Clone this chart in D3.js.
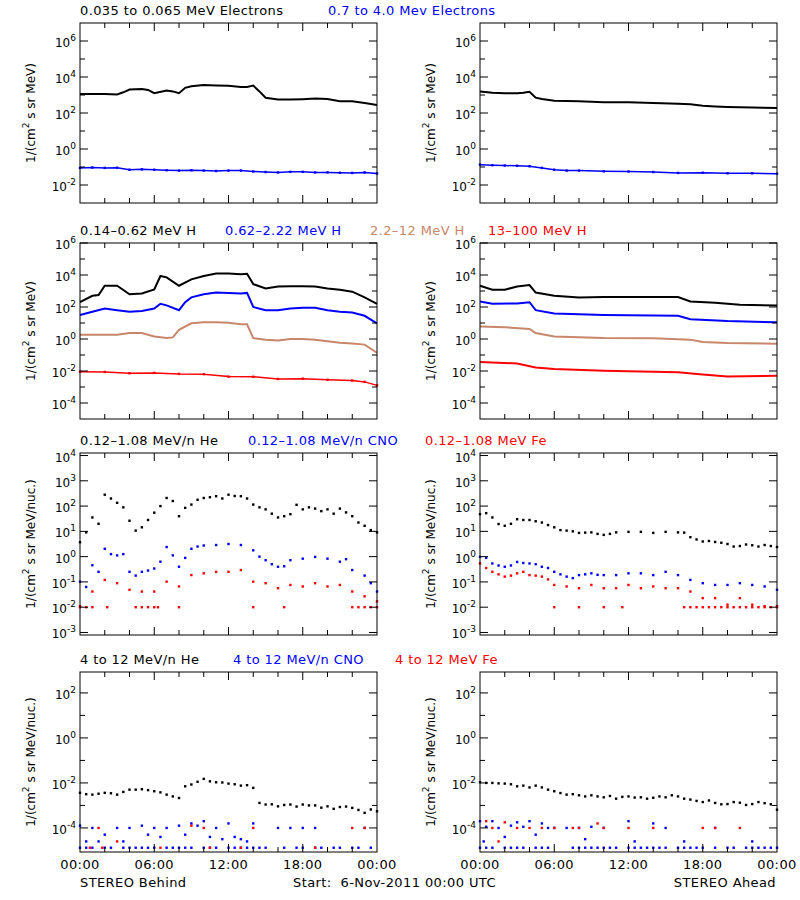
<!DOCTYPE html>
<html>
<head>
<script src="https://d3js.org/d3.v7.min.js"></script>
<style>
  body { margin: 0; background: #fff; }
  text { font-family: "DejaVu Sans", sans-serif; font-size: 12px; }
  .title { font-size: 13px; letter-spacing: 0.4px; }
</style>
</head>
<body>
<svg id="chart" width="800" height="900"></svg>
<script>
// Data: [hour, log10 flux]
var bElec1 = [[0,3.05],[1,3.05],[2,3.05],[3,3.03],[3.5,3.15],[4,3.3],[5,3.33],[5.5,3.28],[6,3.1],[7,3.25],[7.5,3.2],[8,3.1],[8.5,3.4],[9,3.48],[10,3.55],[11,3.53],[12,3.52],[13,3.45],[13.5,3.45],[14,3.52],[14.5,3.2],[15,2.85],[16,2.75],[17,2.75],[18,2.77],[19,2.8],[20,2.78],[21,2.65],[22,2.65],[23,2.55],[24,2.45]];
var bElec2 = [[0,-1.05],[1,-1.03],[2,-1.05],[3,-1.04],[4,-1.15],[5,-1.13],[6,-1.15],[7,-1.18],[8,-1.2],[9,-1.18],[10,-1.2],[11,-1.22],[12,-1.2],[13,-1.2],[14,-1.25],[15,-1.28],[16,-1.3],[17,-1.27],[18,-1.27],[19,-1.3],[20,-1.3],[21,-1.32],[22,-1.33],[23,-1.3],[24,-1.36]];
var aElec1 = [[0,3.2],[1,3.12],[2,3.1],[3,3.1],[3.5,3.12],[4,3.18],[4.5,2.85],[5,2.78],[6,2.68],[7,2.66],[8,2.65],[10,2.6],[12,2.6],[14,2.56],[16,2.52],[17,2.48],[18,2.4],[19,2.36],[20,2.33],[22,2.3],[24,2.28]];
var aElec2 = [[0,-0.87],[1,-0.9],[2,-0.92],[3,-0.93],[4,-0.96],[5,-1.05],[6,-1.15],[7,-1.2],[8,-1.2],[10,-1.24],[12,-1.25],[14,-1.28],[16,-1.33],[18,-1.32],[20,-1.35],[22,-1.35],[24,-1.37]];

var bH1 = [[0,2.3],[1,2.7],[1.5,2.75],[2,3.33],[3,3.33],[4,2.8],[5,2.85],[6,3.1],[6.5,3.94],[7,3.85],[8,3.33],[9,3.73],[10,3.94],[11,4.1],[12,4.1],[13,4.04],[13.5,4.08],[14,3.43],[15,3.16],[16,3.28],[17,3.3],[18,3.3],[19,3.28],[20,3.16],[21,3.08],[22,2.96],[23,2.6],[24,2.2]];
var bH2 = [[0,1.5],[1,1.7],[2,1.9],[3,1.8],[4,1.7],[5,1.75],[6,1.9],[6.5,2.2],[7,2.1],[8,1.8],[8.5,2.3],[9,2.6],[10,2.8],[11,2.9],[12,2.88],[13,2.85],[13.5,2.88],[14,2.0],[15,1.8],[16,1.8],[17,1.9],[18,1.95],[19,1.95],[20,1.8],[21,1.7],[22,1.65],[23,1.45],[24,0.98]];
var bH3 = [[0,0.27],[1,0.27],[2,0.27],[3,0.27],[4,0.37],[5,0.37],[6,0.16],[7,0.06],[7.5,0.1],[8,0.57],[9,0.98],[10,1.04],[11,1.04],[12,1.02],[13,0.92],[13.5,0.92],[14,0.06],[15,-0.04],[16,-0.1],[17,0.0],[18,0.0],[19,-0.04],[20,-0.14],[21,-0.24],[22,-0.28],[23,-0.35],[24,-0.86]];
var bH4 = [[0,-2.04],[2,-2.06],[4,-2.14],[6,-2.12],[8,-2.18],[10,-2.2],[12,-2.35],[14,-2.36],[16,-2.5],[18,-2.48],[20,-2.55],[22,-2.6],[23,-2.68],[24,-2.9]];
var aH1 = [[0,3.33],[1,3.08],[2,3.08],[3,3.28],[4,3.37],[4.5,2.9],[6,2.7],[8,2.6],[10,2.62],[14,2.62],[16,2.62],[17,2.35],[19,2.27],[21,2.14],[24,2.1]];
var aH2 = [[0,2.35],[1,2.2],[3,2.22],[4,2.3],[4.5,1.8],[6,1.6],[10,1.5],[16,1.45],[17,1.24],[20,1.12],[24,1.04]];
var aH3 = [[0,0.78],[2,0.74],[4,0.63],[4.5,0.37],[6,0.16],[10,0.06],[14,0.04],[17,-0.04],[18,-0.18],[20,-0.25],[24,-0.3]];
var aH4 = [[0,-1.43],[3,-1.53],[4.5,-1.78],[6,-1.88],[10,-1.98],[16,-2.08],[18,-2.22],[20,-2.35],[24,-2.3]];

var bHe1 = [[0,0.57],[0.5,0.96],[1,1.55],[1.5,1.3],[2,2.45],[2.5,2.3],[3,2.13],[3.5,1.95],[4,1.42],[4.5,1.03],[5,1.16],[5.5,1.45],[6,1.74],[6.5,2.0],[7,2.32],[7.5,2.2],[8,1.6],[8.5,1.93],[9,2.06],[9.5,2.25],[10,2.32],[10.5,2.35],[11,2.39],[11.5,2.3],[12,2.45],[12.5,2.4],[13,2.39],[13.5,2.3],[14,2.06],[14.5,1.95],[15,1.87],[15.5,1.7],[16,1.55],[16.5,1.6],[17,1.68],[17.5,2.05],[18,1.87],[18.5,1.95],[19,1.9],[19.5,1.8],[20,1.87],[20.5,1.7],[21,1.9],[21.5,1.75],[22,1.6],[22.5,1.35],[23,1.22],[23.5,1.05],[24,0.96]];
var bCNO1 = [[0,-0.99],[0.5,-1.2],[1,-0.34],[1.5,-0.6],[2,0.31],[2.5,0.1],[3,0.05],[3.5,0.1],[4,-0.6],[4.5,-0.75],[5,-0.6],[5.5,-0.55],[6,-0.47],[6.5,-0.2],[7,0.38],[7.5,0.05],[8,-0.4],[8.5,-0.05],[9,0.31],[9.5,0.4],[10,0.44],[11,0.46],[12,0.5],[13,0.46],[14,0.25],[14.5,0.0],[15,-0.14],[15.5,-0.3],[16,-0.4],[16.5,-0.38],[17,-0.14],[18,-0.08],[19,-0.01],[20,-0.08],[21,-0.2],[21.5,-0.1],[22,-0.53],[23,-0.75],[23.5,-1.05],[24,-1.38]];
var bFe1 = [[0,-1.96],[1,-1.38],[2,-0.92],[3,-1.05],[4,-1.31],[5,-1.38],[6,-1.38],[7,-0.99],[8,-1.18],[9,-0.73],[10,-0.66],[11,-0.6],[12,-0.6],[13,-0.53],[14,-0.99],[15,-1.05],[16,-1.25],[17,-1.12],[18,-1.18],[19,-1.05],[20,-1.18],[21,-1.12],[22,-1.38],[23,-1.57],[24,-1.77]];
var bFe1Floor = [0,0.5,1,2.2,4.5,5,5.5,6,6.3,8,14,16.5,22,22.5,23,23.5,24];
var aHe1 = [[0,1.68],[0.5,1.72],[1,1.55],[1.5,1.29],[2,1.22],[2.5,1.3],[3,1.48],[3.5,1.45],[4,1.45],[4.5,1.4],[5,1.35],[5.5,1.25],[6,1.16],[6.5,1.05],[7,1.03],[7.5,1.0],[8,0.94],[8.5,0.95],[9,0.96],[9.5,0.9],[10,0.86],[10.5,0.9],[11,0.96],[12,0.98],[13,0.98],[14,0.94],[15,0.98],[16,0.96],[16.5,0.95],[17,0.77],[17.5,0.68],[18,0.6],[18.5,0.62],[19,0.58],[19.5,0.55],[20,0.5],[20.5,0.4],[21,0.42],[21.5,0.48],[22,0.45],[22.5,0.4],[23,0.46],[23.5,0.42],[24,0.38]];
var aCNO1 = [[0,-0.01],[0.5,-0.05],[1,-0.27],[1.5,-0.35],[2,-0.4],[2.5,-0.35],[3,-0.21],[3.5,-0.25],[4,-0.27],[4.5,-0.3],[5,-0.4],[5.5,-0.45],[6,-0.6],[6.5,-0.7],[7,-0.79],[7.5,-0.85],[8,-0.73],[8.5,-0.7],[9,-0.66],[9.5,-0.72],[10,-0.73],[11,-0.73],[12,-0.66],[13,-0.66],[14,-0.73],[15,-0.6],[16,-0.73],[17,-0.92],[18,-1.05],[19,-1.12],[20,-1.12],[21,-1.05],[22,-1.12],[23,-1.18],[24,-1.31]];
var aFe1 = [[0,-0.27],[0.5,-0.45],[1,-0.6],[1.5,-0.7],[2,-0.79],[2.5,-0.75],[3,-0.66],[3.5,-0.6],[4,-0.73],[4.5,-0.75],[5,-0.79],[5.5,-0.9],[6,-1.12],[7,-1.18],[8,-1.25],[9,-1.12],[10,-1.25],[11,-1.25],[12,-1.12],[13,-1.25],[14,-1.18],[15,-1.25],[16,-1.25],[17,-1.38],[18,-1.64],[19,-1.64],[20,-1.9],[21,-1.64],[22,-1.9],[23,-1.96],[24,-1.96]];
var aFe1Floor = [6,8,10,11.5,16.5,17,17.5,18,18.5,19,19.5,20,20.5,21,21.5,22,22.5,23,23.5,24];

var bHe2 = [[0,-2.44],[0.5,-2.5],[1,-2.52],[1.5,-2.48],[2,-2.44],[2.5,-2.46],[3,-2.52],[3.5,-2.4],[4,-2.3],[4.5,-2.3],[5,-2.28],[5.5,-2.32],[6,-2.37],[6.5,-2.42],[7,-2.52],[7.5,-2.6],[8,-2.67],[8.5,-2.15],[9,-2.07],[9.5,-1.95],[10,-1.82],[10.5,-1.93],[11,-1.97],[11.5,-1.98],[12,-2.03],[12.5,-2.06],[13,-2.12],[13.5,-2.1],[14,-2.22],[14.5,-2.89],[15,-2.96],[15.5,-2.95],[16,-3.04],[16.5,-2.98],[17,-2.96],[17.5,-3.05],[18,-2.96],[18.5,-3.0],[19,-3.0],[19.5,-3.1],[20,-3.04],[20.5,-3.15],[21,-3.07],[21.5,-3.05],[22,-3.11],[22.5,-3.2],[23,-3.33],[23.5,-3.18],[24,-3.26]];
var bCNO2 = [[0,-3.9],[0.5,-4.6],[1,-4.0],[1.5,-4.6],[2,-4.3],[3,-4.0],[3.5,-4.6],[4,-4.0],[5,-3.9],[5.5,-4.3],[6,-4.0],[6.5,-4.4],[7,-4.0],[8,-3.9],[8.5,-4.3],[9,-3.8],[9.5,-3.9],[10,-3.7],[10.5,-4.4],[11,-4.0],[11.5,-4.5],[12,-3.8],[12.5,-4.4],[13,-4.5],[13.5,-4.6],[14,-3.8],[16,-4.0],[17,-4.0],[18,-4.0],[19,-4.0],[23,-4.0]];
var bCNO2Floor = [0,0.5,1,2,2.5,3.5,4,4.5,5,5.5,6,7,7.5,8,8.5,9,10,10.5,11,12,12.5,13,13.5,14,14.5,15,16.5,17.5,18,19,19.5,20.5,21,22,22.5,23.5];
var bFe2 = [[1.5,-4.0],[3,-4.6],[9,-3.9],[10,-4.0],[14,-4.0],[22,-4.0],[23,-4.0]];
var bFe2Floor = [0.8,1.8,6.5,10.5,13,19];
var aHe2 = [[0,-1.97],[0.5,-2.0],[1,-2.0],[1.5,-2.02],[2,-2.03],[2.5,-2.06],[3,-2.15],[3.5,-2.12],[4,-2.2],[4.5,-2.12],[5,-2.2],[5.5,-2.3],[6,-2.37],[6.5,-2.45],[7,-2.52],[7.5,-2.5],[8,-2.55],[8.5,-2.6],[9,-2.55],[9.5,-2.6],[10,-2.64],[10.5,-2.58],[11,-2.7],[11.5,-2.62],[12,-2.6],[12.5,-2.65],[13,-2.64],[13.5,-2.7],[14,-2.66],[14.5,-2.6],[15,-2.64],[15.5,-2.55],[16,-2.6],[16.5,-2.7],[17,-2.74],[17.5,-2.8],[18,-2.85],[18.5,-2.78],[19,-2.89],[19.5,-2.95],[20,-2.94],[20.5,-2.85],[21,-2.88],[21.5,-2.98],[22,-2.94],[22.5,-2.85],[23,-2.9],[23.5,-2.95],[24,-3.19]];
var aCNO2 = [[0,-3.7],[0.3,-4.6],[0.5,-3.95],[1,-3.7],[1.5,-4.0],[2,-4.4],[2.5,-3.9],[3,-3.75],[3.5,-3.95],[4,-3.7],[4.5,-4.3],[5,-3.8],[5.5,-4.0],[6,-4.0],[7,-4.0],[8,-4.0],[8.5,-4.5],[9,-3.95],[10,-4.0],[12,-3.7],[12.5,-4.6],[14,-3.8],[15,-4.0],[16.5,-4.6],[19,-4.0],[22,-4.6]];
var aFe2 = [[0.5,-3.7],[1,-4.0],[1.5,-4.6],[2,-3.75],[3,-4.0],[4,-4.0],[5,-4.0],[6,-4.0],[7.5,-4.0],[8,-4.0],[9.5,-3.8],[10,-4.0],[12,-4.0],[14,-4.0],[18,-4.0],[19,-4.0],[21,-4.0]];
var aFloor2 = [0,0.5,1,2,2.5,3,3.5,4.5,5,5.5,7.5,8,8.5,9,9.5,10,10.5,11,12,12.5,13,13.5,14,14.5,15,16,16.5,17,17.5,18,19,20,20.5,21.5,22,22.5,23,23.5,24];

var hourTicks = ["00:00", "06:00", "12:00", "18:00", "00:00"];

var blue = "#0000ff", red = "#ff0000", brown = "#c8866a";

var rows = [
  { top: 23, bottom: 203, dom: [-3, 7], labels: [-2, 0, 2, 4, 6], minors: [-1, 1, 3, 5], unit: "MeV",
    titles: [["0.035 to 0.065 MeV Electrons", "#000", 80], ["0.7 to 4.0 Mev Electrons", blue, 328]],
    left: [{ d: bElec1, c: "#000" }, { d: bElec2, c: blue, dots: true }],
    right: [{ d: aElec1, c: "#000" }, { d: aElec2, c: blue, dots: true }] },
  { top: 243, bottom: 419, dom: [-5, 6], labels: [-4, -2, 0, 2, 4, 6], minors: [-3, -1, 1, 3, 5], unit: "MeV",
    titles: [["0.14\u20130.62 MeV H", "#000", 80], ["0.62\u20132.22 MeV H", blue, 225], ["2.2\u201312 MeV H", brown, 370], ["13\u2013100 MeV H", red, 488]],
    left: [{ d: bH1, c: "#000" }, { d: bH2, c: blue }, { d: bH3, c: brown }, { d: bH4, c: red, dots: true }],
    right: [{ d: aH1, c: "#000" }, { d: aH2, c: blue }, { d: aH3, c: brown }, { d: aH4, c: red }] },
  { top: 453, bottom: 635, dom: [-3.1, 4.1], labels: [-3, -2, -1, 0, 1, 2, 3, 4], minors: [], unit: "MeV/nuc.",
    titles: [["0.12\u20131.08 MeV/n He", "#000", 80], ["0.12\u20131.08 MeV/n CNO", blue, 248], ["0.12\u20131.08 MeV Fe", red, 425]],
    left: [{ d: bHe1, c: "#000", scatter: true }, { d: bCNO1, c: blue, scatter: true }, { d: bFe1, c: red, scatter: true },
           { d: bFe1Floor.map(function(h) { return [h, -2]; }), c: red, scatter: true }],
    right: [{ d: aHe1, c: "#000", scatter: true }, { d: aCNO1, c: blue, scatter: true }, { d: aFe1, c: red, scatter: true },
            { d: aFe1Floor.map(function(h) { return [h, -2]; }), c: red, scatter: true }] },
  { top: 672, bottom: 852, dom: [-5.07, 2.93], labels: [-4, -2, 0, 2], minors: [-3, -1, 1], unit: "MeV/nuc.",
    titles: [["4 to 12 MeV/n He", "#000", 80], ["4 to 12 MeV/n CNO", blue, 233], ["4 to 12 MeV Fe", red, 395]],
    left: [{ d: bHe2, c: "#000", scatter: true }, { d: bCNO2Floor.map(function(h) { return [h, -4.88]; }), c: blue, scatter: true },
           { d: bCNO2, c: blue, scatter: true }, { d: bFe2, c: red, scatter: true },
           { d: bFe2Floor.map(function(h) { return [h, -4.88]; }), c: red, scatter: true }],
    right: [{ d: aHe2, c: "#000", scatter: true }, { d: aFloor2.map(function(h) { return [h, -4.88]; }), c: blue, scatter: true },
            { d: aCNO2, c: blue, scatter: true }, { d: aFe2, c: red, scatter: true }] }
];

var svg = d3.select("#chart");
var cols = [{ x0: 80, key: "left" }, { x0: 480, key: "right" }];
var pw = 297;

rows.forEach(function(r, ri) {
  r.titles.forEach(function(t) {
    svg.append("text").attr("class", "title").attr("x", t[2]).attr("y", r.top - 8).attr("fill", t[1]).text(t[0]);
  });
  cols.forEach(function(col) {
    var x = d3.scaleLinear().domain([0, 24]).range([col.x0, col.x0 + pw]);
    var y = d3.scaleLinear().domain(r.dom).range([r.bottom, r.top]);
    var g = svg.append("g");

    // series
    r[col.key].forEach(function(s) {
      var pts = s.d.filter(function(p) { return p[1] >= r.dom[0] && p[1] <= r.dom[1]; });
      if (!s.scatter) {
        g.append("path").datum(pts)
          .attr("fill", "none").attr("stroke", s.c).attr("stroke-width", s.dots ? 1.5 : 2)
          .attr("d", d3.line().x(function(p) { return x(p[0]); }).y(function(p) { return y(p[1]); }));
      }
      if (s.scatter || s.dots) {
        g.selectAll(null).data(pts).enter().append("rect")
          .attr("x", function(p) { return x(p[0]) - 1.2; })
          .attr("y", function(p) { return y(p[1]) - 1.2; })
          .attr("width", 2.4).attr("height", 2.4).attr("fill", s.c);
      }
    });

    // frame
    g.append("rect").attr("x", col.x0).attr("y", r.top).attr("width", pw).attr("height", r.bottom - r.top)
      .attr("fill", "none").attr("stroke", "#000").attr("stroke-width", 1);

    // x ticks (inward, top & bottom)
    d3.range(2, 24, 2).forEach(function(h) {
      var len = h % 6 === 0 ? 8 : 5;
      g.append("line").attr("x1", x(h)).attr("x2", x(h)).attr("y1", r.bottom).attr("y2", r.bottom - len).attr("stroke", "#000");
      g.append("line").attr("x1", x(h)).attr("x2", x(h)).attr("y1", r.top).attr("y2", r.top + len).attr("stroke", "#000");
    });

    // y ticks (inward, left & right)
    r.labels.concat(r.minors).forEach(function(v) {
      var len = r.labels.indexOf(v) >= 0 ? 8 : 5;
      g.append("line").attr("x1", col.x0).attr("x2", col.x0 + len).attr("y1", y(v)).attr("y2", y(v)).attr("stroke", "#000");
      g.append("line").attr("x1", col.x0 + pw).attr("x2", col.x0 + pw - len).attr("y1", y(v)).attr("y2", y(v)).attr("stroke", "#000");
    });
    r.labels.forEach(function(v) {
      var t = g.append("text").attr("x", col.x0 - 4).attr("y", y(v) + 6).attr("text-anchor", "end");
      t.append("tspan").text("10");
      t.append("tspan").attr("dy", -6).attr("font-size", "9px").text(v);
    });

    // y label
    var yl = svg.append("text").attr("transform", "translate(" + (col.x0 - 45) + "," + ((r.top + r.bottom) / 2) + ") rotate(-90)")
      .attr("text-anchor", "middle");
    yl.append("tspan").text("1/(cm");
    yl.append("tspan").attr("dy", -6).attr("font-size", "9px").text("2");
    yl.append("tspan").attr("dy", 6).text(" s sr " + r.unit + ")");

    if (ri === 3) {
      hourTicks.forEach(function(lbl, i) {
        svg.append("text").attr("class", "title").attr("x", x(i * 6)).attr("y", r.bottom + 17).attr("text-anchor", "middle").text(lbl);
      });
    }
  });
});

svg.append("text").attr("class", "title").attr("x", 80).attr("y", 887).text("STEREO Behind");
svg.append("text").attr("class", "title").attr("x", 293).attr("y", 887).attr("xml:space", "preserve").text("Start:  6-Nov-2011 00:00 UTC");
svg.append("text").attr("class", "title").attr("x", 776).attr("y", 887).attr("text-anchor", "end").text("STEREO Ahead");
</script>
</body>
</html>
